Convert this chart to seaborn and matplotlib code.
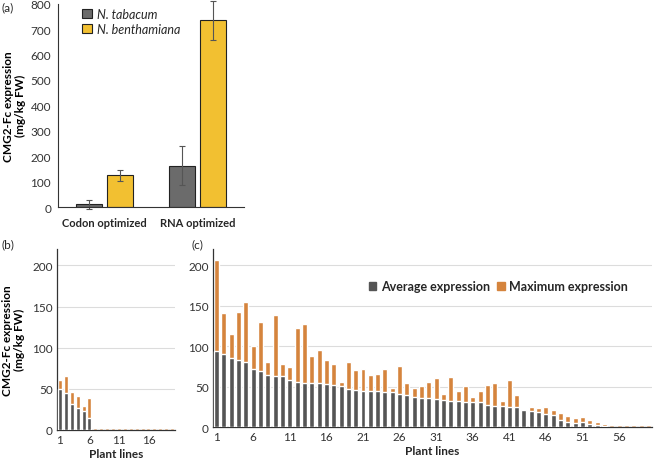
import matplotlib
matplotlib.use('Agg')
import matplotlib.pyplot as plt
from matplotlib.patches import Patch
import pandas as pd
import seaborn as sns

# panel (a)
constructs = ['Codon optimized', 'RNA optimized']
species = ['N. tabacum', 'N. benthamiana']
mean_tabacum = [10, 163]
mean_benthamiana = [124, 734]
sd_tabacum = [18, 76]
sd_benthamiana = [20, 77]

# panel (b): lines 1-20
avg_b = [50, 45, 30.7, 26.6, 23, 14.8, 0, 0, 0, 0, 0, 0, 0, 0, 0, 0, 0, 0, 0, 0]
max_b = [60.7, 64.8, 46, 41, 28.7, 38.5, 2.5, 2.5, 2.5, 2.5, 2.5, 2.5, 2.5,
         2.5, 2.5, 2.5, 2.5, 2.5, 2.5, 2.5]

# panel (c): lines 1-60
avg_c = [94, 90, 86, 83, 81, 72, 69, 64.5, 63.5, 63.5,
         58, 56, 54.6, 54.2, 54.2, 53.4, 52, 50.5, 47, 46,
         45, 45, 45, 44, 44, 40.7, 40, 38, 36.6, 36,
         35, 34, 33, 33, 31.6, 31, 31, 27.5, 26, 26,
         25.5, 25, 21, 20, 18.5, 16.4, 15, 9.5, 7, 5.8,
         6, 4.5, 2.5, 1.2, 0, 0, 0, 0, 0, 0]
max_c = [206, 141, 114.6, 141.7, 154, 100.6, 130, 81, 138, 78,
         75, 122, 127.7, 88.3, 95, 83, 78, 56, 80, 71,
         72, 64, 66, 72, 48, 76, 55, 49, 51, 56,
         61, 41, 62, 45, 50.5, 38, 45, 52.6, 55, 33,
         58, 40, 21, 24.6, 23.4, 24.7, 21.8, 17.7, 14.4, 11,
         12.7, 9.5, 7, 3.7, 2.5, 2.5, 2.5, 2.5, 2.5, 2.5]

GRAY = '#555555'
ORANGE = '#d5843d'
GOLD = '#f2c031'
TAB_GRAY = '#6b6b6b'

sns.set_style('white')
plt.rcParams['font.family'] = ['Lato', 'DejaVu Sans']
plt.rcParams['font.size'] = 8.5

fig = plt.figure(figsize=(6.54, 4.6), dpi=100)
ax_a = fig.add_axes([0.0887, 0.5478, 0.2843, 0.442])
ax_b = fig.add_axes([0.0872, 0.0637, 0.1804, 0.3928])
ax_c = fig.add_axes([0.3257, 0.0689, 0.6713, 0.3876])

ylab = 'CMG2-Fc expression\n(mg/kg FW)'

# ---- (a)
df_a = pd.DataFrame({
    'construct': constructs * 2,
    'species': [species[0]] * 2 + [species[1]] * 2,
    'mean': mean_tabacum + mean_benthamiana,
    'sd': sd_tabacum + sd_benthamiana,
})
sns.barplot(data=df_a, x='construct', y='mean', hue='species',
            palette=[TAB_GRAY, GOLD], saturation=1, errorbar=None,
            width=0.66, gap=0.15, edgecolor='#222222', linewidth=0.8, ax=ax_a)
for cont, sp in zip(ax_a.containers, species):
    sub = df_a[df_a['species'] == sp]
    xs = [b.get_x() + b.get_width() / 2 for b in cont]
    eb = ax_a.errorbar(xs, sub['mean'], yerr=sub['sd'], fmt='none',
                       ecolor='#555555', elinewidth=0.8, capsize=2.5, capthick=0.8)
    for art in eb.lines[1] + eb.lines[2]:
        art.set_clip_on(False)
ax_a.set_ylim(0, 800)
ax_a.set_xlim(-0.5, 1.5)
ax_a.set_yticks(range(0, 801, 100))
ax_a.set_xlabel('')
ax_a.set_ylabel(ylab, fontweight='bold', fontsize=8.5, color='black',
                labelpad=3, linespacing=1.15)
ax_a.tick_params(axis='y', length=3, width=0.8, colors='#333333', labelsize=8.5, pad=2)
ax_a.tick_params(axis='x', length=0, labelsize=8, pad=7)
for lab in ax_a.get_xticklabels():
    lab.set_fontweight('bold')
ax_a.set_xticks([0.5], minor=True)
ax_a.tick_params(axis='x', which='minor', length=3, width=0.8, color='#333333')
for s in ['top', 'right']:
    ax_a.spines[s].set_visible(False)
for s in ['left', 'bottom']:
    ax_a.spines[s].set_color('#333333')
    ax_a.spines[s].set_linewidth(0.8)
ax_a.legend(loc='upper left', bbox_to_anchor=(0.07, 1.035), frameon=False,
            handlelength=0.8, handleheight=0.8, handletextpad=0.4,
            labelspacing=0.25, prop={'style': 'italic', 'size': 9})
fig.text(0.003, 0.982, '(a)', fontsize=8.5, va='center')


def expression_panel(ax, avg, mx):
    lines = [str(i + 1) for i in range(len(avg))]
    df = pd.DataFrame({'line': lines, 'avg': avg, 'max': mx})
    sns.barplot(data=df, x='line', y='max', color=ORANGE, saturation=1,
                width=0.68, ax=ax, zorder=2)
    sns.barplot(data=df, x='line', y='avg', color=GRAY, saturation=1,
                width=0.68, ax=ax, zorder=3)
    ax.set_ylim(0, 220)
    ax.set_xlim(-0.5, len(avg) - 0.5)
    ax.set_yticks([0, 50, 100, 150, 200])
    ax.set_xticks(range(0, len(avg), 5))
    ax.set_xticklabels(lines[::5])
    ax.yaxis.grid(True, color='#dcdcdc', linewidth=0.8, zorder=0)
    ax.set_axisbelow(True)
    ax.tick_params(axis='both', length=0, labelsize=8.5, colors='#333333', pad=3)
    ax.set_xlabel('Plant lines', fontsize=8.5, fontweight='bold', labelpad=2)
    ax.set_ylabel('')
    for s in ['top', 'right']:
        ax.spines[s].set_visible(False)
    for s in ['left', 'bottom']:
        ax.spines[s].set_color('#333333')
        ax.spines[s].set_linewidth(0.9)


expression_panel(ax_b, avg_b, max_b)
ax_b.set_ylabel(ylab, fontweight='bold', fontsize=8.5, color='black',
                labelpad=5, linespacing=1.15)
fig.text(0.003, 0.468, '(b)', fontsize=8.5, va='center')

expression_panel(ax_c, avg_c, max_c)
fig.text(0.293, 0.468, '(c)', fontsize=8.5, va='center')
handles = [Patch(color=GRAY), Patch(color=ORANGE)]
ax_c.legend(handles, ['Average expression', 'Maximum expression'],
            loc='center', bbox_to_anchor=(0.65, 0.79), ncol=2, frameon=False,
            handlelength=0.6, handleheight=0.6, handletextpad=0.35,
            columnspacing=0.6, prop={'size': 9, 'weight': 'bold'})

fig.savefig('out.png', dpi=100)
